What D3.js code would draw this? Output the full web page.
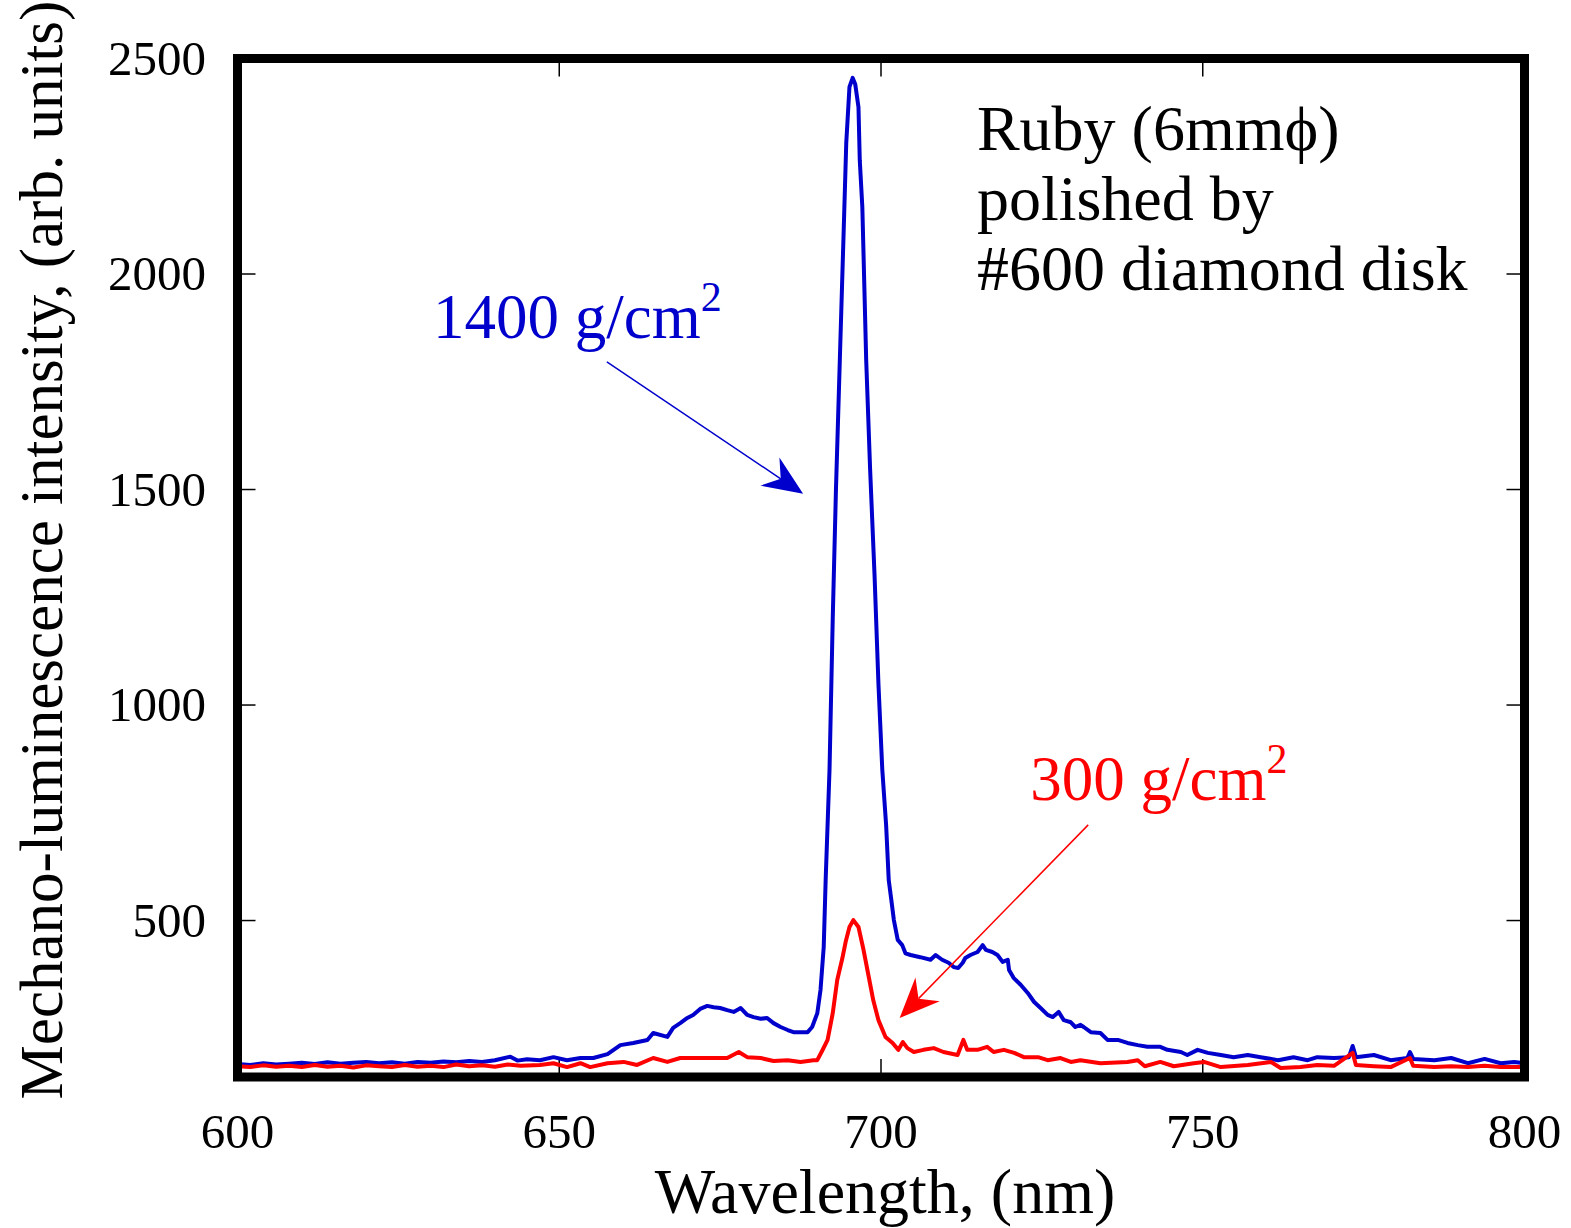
<!DOCTYPE html>
<html>
<head>
<meta charset="utf-8">
<script src="https://cdn.jsdelivr.net/npm/d3@7"></script>
<style>
  body { margin: 0; background: #fff; }
  svg { display: block; }
  text { font-family: "Liberation Serif", "Times New Roman", serif; }
</style>
</head>
<body>
<div id="chart"></div>
<script>
// 1400 g/cm2 spectrum (blue)
const blueWl = [600, 602, 604, 606, 608, 610, 612, 614, 616, 618, 620, 622, 624, 626, 628, 630, 632, 634, 636, 638, 640, 642.4, 643.5, 645,
  647.0, 649.1, 651.2, 653.3, 655.3, 657.5, 659.5, 661.5, 663.7, 664.6, 666.8, 667.7, 668.8, 669.9, 670.8, 671.9, 673.0, 674.0, 675.0,
  676.1, 677.1, 678.2, 679.2, 680.2, 681.3, 682.3, 683.3, 684.4, 685.5, 686.4, 687.5, 688.6, 689.3, 690.1, 690.6, 691.1, 691.4, 692.0,
  692.5, 693.0, 693.6, 694.2, 694.6, 695.1, 695.6, 696.0, 696.5, 696.7, 697.1, 697.7, 698.3, 699.0, 699.6, 700.2, 700.8, 701.2, 701.6,
  702.0, 702.6, 703.3, 703.8, 704.6, 706.1, 707.7, 708.5, 709.5, 710.5, 711.3, 712.0, 712.7, 713.1, 713.9, 715.0, 715.8, 716.3, 717.3,
  718.1, 718.9, 719.7, 719.9, 720.6, 721.7, 722.8, 723.8, 724.8, 725.9, 726.7, 727.6, 728.4, 729.5, 730.2, 731.0, 731.5, 732.6, 734.1,
  735.2, 736.8, 738.3, 739.9, 741.4, 743.4, 744.5, 746.6, 747.6, 749.2, 750.8, 752.8, 754.8, 757.0, 759.0, 761.7, 764.1, 766.3, 767.8,
  770.4, 772.7, 773.3, 773.8, 776.6, 779.2, 781.8, 782.2, 782.7, 786.0, 788.6, 791.2, 793.8, 796.3, 798.4, 800];
const blueVal = [167, 165, 169, 166, 168, 170, 167, 171, 168, 170, 172, 169, 171, 168, 172, 170, 173, 171, 174, 172, 176, 184, 175, 178,
  176, 183, 176, 181, 181, 190, 211, 216, 223, 239, 230, 251, 262, 274, 281, 295, 302, 299, 297,
  292, 288, 297, 281, 276, 272, 274, 262, 253, 246, 241, 241, 241, 253, 285, 339, 439, 594, 850,
  1200, 1500, 1800, 2100, 2304, 2434, 2455, 2440, 2387, 2264, 2155, 1800, 1550, 1300, 1050, 850, 720, 594, 548,
  501, 455, 443, 424, 420, 415, 409, 420, 409, 402, 392, 390, 402, 413, 420, 427, 443, 432, 427,
  420, 404, 409, 385, 367, 351, 332, 311, 297, 281, 276, 288, 269, 264, 253, 258, 253, 241, 239,
  223, 223, 216, 211, 207, 207, 200, 195, 188, 200, 193, 188, 183, 188, 183, 176, 183, 176, 183,
  181, 183, 209, 183, 188, 176, 181, 195, 179, 176, 181, 169, 179, 169, 172, 169];

// 300 g/cm2 spectrum (red)
const redWl = [600, 602, 604, 606, 608, 610, 612, 614, 616, 618, 620, 622, 624, 626, 628, 630, 632, 634, 636, 638, 640, 642, 644,
  647.0, 649.1, 651.2, 653.3, 654.8, 657.5, 660.0, 662.1, 664.6, 666.8, 668.8, 671.4, 674.0, 676.1, 677.9, 679.2, 681.3, 683.3, 685.5,
  687.5, 689.5, 690.1, 690.9, 691.7, 692.5, 693.2, 694.0, 694.5, 695.1, 695.7, 696.5, 697.3, 698.1, 698.8, 699.6, 700.7, 701.8, 702.7,
  703.4, 704.1, 705.1, 706.6, 708.2, 709.7, 711.9, 712.8, 713.4, 715.0, 716.5, 717.5, 719.1, 720.7, 722.2, 724.4, 725.9, 727.9, 729.5,
  731.0, 734.1, 738.3, 739.9, 741, 743.4, 745.5, 748.6, 750.2, 752.8, 757.0, 760.6, 762.1, 765.2, 767.8, 770.4, 773.3, 773.8, 776.6,
  779.2, 782.2, 782.7, 786.0, 788.6, 791.2, 793.8, 796.3, 800];
const redVal = [162, 160, 164, 161, 163, 160, 165, 161, 163, 159, 164, 162, 160, 165, 161, 163, 160, 166, 162, 164, 161, 166, 163,
  165, 169, 160, 169, 160, 169, 172, 165, 181, 172, 181, 181, 181, 181, 195, 183, 181, 174, 176,
  172, 176, 176, 199, 223, 285, 362, 413, 450, 485, 501, 485, 431, 369, 315, 269, 230, 216, 200,
  218, 204, 195, 200, 204, 195, 188, 223, 200, 200, 207, 195, 200, 193, 183, 183, 176, 181, 172,
  176, 169, 172, 176, 162, 172, 162, 169, 172, 160, 165, 172, 158, 160, 165, 163, 193, 165, 162,
  160, 181, 163, 160, 162, 160, 163, 160, 160];

const xTicks = [600, 650, 700, 750, 800];
const yTicks = [500, 1000, 1500, 2000, 2500];
const noteLines = ["Ruby (6mm\u03d5)", "polished by", "#600 diamond disk"];

const W = 1571, H = 1228;
const svg = d3.select("#chart").append("svg")
    .attr("width", W)
    .attr("height", H);

const x = d3.scaleLinear().domain([600, 800]).range([237.5, 1524.5]);
const y = d3.scaleLinear().domain([137, 2500]).range([1077, 58.5]);

svg.append("clipPath").attr("id", "plotclip")
  .append("rect")
    .attr("x", x(600)).attr("y", y(2500))
    .attr("width", x(800) - x(600)).attr("height", y(137) - y(2500));

// ticks (inside, on all four sides)
const tickLen = 18;
const axisG = svg.append("g").attr("stroke", "#000").attr("stroke-width", 1.5);
xTicks.forEach(function(t) {
    axisG.append("line").attr("x1", x(t)).attr("x2", x(t)).attr("y1", y(137)).attr("y2", y(137) - tickLen);
    axisG.append("line").attr("x1", x(t)).attr("x2", x(t)).attr("y1", y(2500)).attr("y2", y(2500) + tickLen);
});
yTicks.forEach(function(t) {
    axisG.append("line").attr("x1", x(600)).attr("x2", x(600) + tickLen).attr("y1", y(t)).attr("y2", y(t));
    axisG.append("line").attr("x1", x(800)).attr("x2", x(800) - tickLen).attr("y1", y(t)).attr("y2", y(t));
});

// tick labels
svg.append("g").selectAll("text")
  .data(xTicks)
  .enter().append("text")
    .attr("x", function(d) { return x(d); })
    .attr("y", 1148)
    .attr("text-anchor", "middle")
    .attr("font-size", 49)
    .text(function(d) { return d; });
svg.append("g").selectAll("text")
  .data(yTicks)
  .enter().append("text")
    .attr("x", 206)
    .attr("y", function(d) { return y(d) + 16; })
    .attr("text-anchor", "end")
    .attr("font-size", 49)
    .text(function(d) { return d; });

// axis titles
svg.append("text")
    .attr("x", 885)
    .attr("y", 1213)
    .attr("text-anchor", "middle")
    .attr("font-size", 64)
    .text("Wavelength, (nm)");
svg.append("text")
    .attr("transform", "translate(62,550) rotate(-90)")
    .attr("text-anchor", "middle")
    .attr("font-size", 61)
    .text("Mechano-luminescence intensity, (arb. units)");

// spectra
const line = d3.line()
    .x(function(d) { return x(d[0]); })
    .y(function(d) { return y(d[1]); });
const plotG = svg.append("g").attr("clip-path", "url(#plotclip)");
plotG.append("path")
    .datum(d3.zip(blueWl, blueVal))
    .attr("fill", "none")
    .attr("stroke", "#0000cc")
    .attr("stroke-width", 4)
    .attr("stroke-linejoin", "round")
    .attr("d", line);
plotG.append("path")
    .datum(d3.zip(redWl, redVal))
    .attr("fill", "none")
    .attr("stroke", "#ff0000")
    .attr("stroke-width", 4)
    .attr("stroke-linejoin", "round")
    .attr("d", line);

// frame
svg.append("rect")
    .attr("x", x(600)).attr("y", y(2500))
    .attr("width", x(800) - x(600)).attr("height", y(137) - y(2500))
    .attr("fill", "none")
    .attr("stroke", "#000")
    .attr("stroke-width", 9);

// annotation text
svg.append("g").selectAll("text")
  .data(noteLines)
  .enter().append("text")
    .attr("x", x(714.9))
    .attr("y", function(d, i) { return 150 + i * 70; })
    .attr("font-size", 64)
    .text(function(d) { return d; });

function pressureLabel(px, py, value, color) {
    const t = svg.append("text")
        .attr("x", px).attr("y", py)
        .attr("font-size", 63)
        .attr("fill", color);
    t.append("tspan").text(value + " g/cm");
    t.append("tspan").attr("font-size", 42).attr("dy", -27).text("2");
}
pressureLabel(x(630.4), y(1852), 1400, "#0000cc");
pressureLabel(x(723.2), y(780), 300, "#ff0000");

// arrows
function arrow(x0, y0, x1, y1, color) {
    const ax = x(x0), ay = y(y0), bx = x(x1), by = y(y1);
    const ang = Math.atan2(by - ay, bx - ax);
    const len = 40, half = 17, notch = 27;
    const ux = Math.cos(ang), uy = Math.sin(ang);
    const nx = -uy, ny = ux;
    svg.append("line")
        .attr("x1", ax).attr("y1", ay)
        .attr("x2", bx - ux * notch).attr("y2", by - uy * notch)
        .attr("stroke", color).attr("stroke-width", 1.5);
    const pts = [
        [bx, by],
        [bx - ux * len + nx * half, by - uy * len + ny * half],
        [bx - ux * notch, by - uy * notch],
        [bx - ux * len - nx * half, by - uy * len - ny * half]
    ];
    svg.append("path")
        .attr("d", "M" + pts.map(function(p) { return p.join(","); }).join("L") + "Z")
        .attr("fill", color);
}
arrow(657.4, 1796, 687.9, 1490, "#0000cc");
arrow(732.2, 722, 702.9, 274, "#ff0000");
</script>
</body>
</html>
